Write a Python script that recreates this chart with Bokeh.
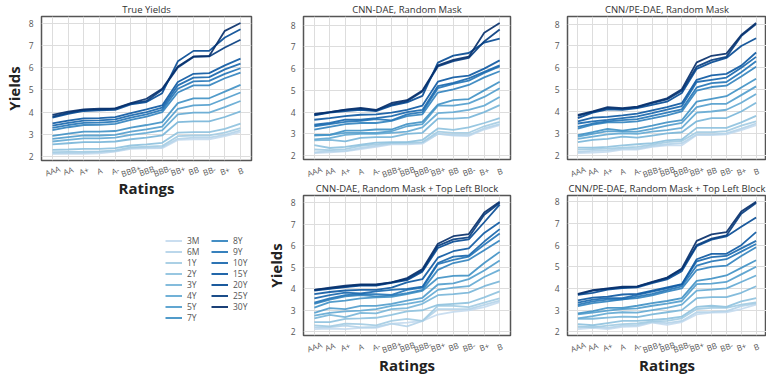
from bokeh.plotting import figure
from bokeh.layouts import row, column
from bokeh.models import (FactorRange, SingleIntervalTicker, Legend, LegendItem,
                          FixedTicker, CategoricalTicker, Range1d)
from bokeh.core.properties import value
from bokeh.embed import file_html
from bokeh.resources import INLINE

ratings = ["AAA", "AA", "A+", "A", "A-", "BBB+", "BBB", "BBB-", "BB+", "BB", "BB-", "B+", "B"]
maturities = ["3M", "6M", "1Y", "2Y", "3Y", "4Y", "5Y", "7Y", "8Y", "9Y", "10Y", "15Y", "20Y", "25Y", "30Y"]

# rows follow maturities (3M ... 30Y), columns follow ratings (AAA ... B)
true_yields = [
    [2.12, 2.12, 2.13, 2.15, 2.22, 2.35, 2.37, 2.38, 2.75, 2.78, 2.78, 2.92, 3.10],
    [2.15, 2.16, 2.17, 2.20, 2.25, 2.38, 2.40, 2.42, 2.80, 2.85, 2.85, 2.98, 3.18],
    [2.20, 2.21, 2.22, 2.24, 2.28, 2.42, 2.45, 2.48, 2.92, 2.95, 2.95, 3.08, 3.28],
    [2.30, 2.32, 2.35, 2.35, 2.38, 2.50, 2.55, 2.62, 3.08, 3.10, 3.10, 3.25, 3.48],
    [2.55, 2.60, 2.65, 2.65, 2.68, 2.78, 2.85, 2.95, 3.55, 3.58, 3.58, 3.78, 4.03],
    [2.68, 2.75, 2.82, 2.82, 2.85, 2.98, 3.07, 3.18, 3.90, 3.98, 3.98, 4.22, 4.50],
    [2.80, 2.88, 2.95, 2.95, 2.98, 3.12, 3.22, 3.35, 4.15, 4.30, 4.32, 4.60, 4.88],
    [2.93, 3.03, 3.12, 3.12, 3.15, 3.30, 3.42, 3.55, 4.40, 4.62, 4.62, 4.92, 5.22],
    [3.19, 3.32, 3.42, 3.43, 3.47, 3.65, 3.80, 4.00, 4.88, 5.20, 5.20, 5.52, 5.77],
    [3.29, 3.42, 3.52, 3.53, 3.57, 3.75, 3.90, 4.10, 5.05, 5.38, 5.40, 5.72, 5.97],
    [3.39, 3.52, 3.62, 3.63, 3.67, 3.85, 4.00, 4.20, 5.20, 5.55, 5.57, 5.92, 6.18],
    [3.49, 3.62, 3.72, 3.73, 3.77, 3.95, 4.12, 4.30, 5.35, 5.72, 5.75, 6.10, 6.40],
    [3.75, 3.92, 4.05, 4.08, 4.10, 4.35, 4.45, 4.85, 6.28, 6.75, 6.75, 7.35, 7.72],
    [3.80, 3.97, 4.10, 4.12, 4.15, 4.38, 4.50, 5.00, 6.00, 6.48, 6.50, 6.90, 7.25],
    [3.88, 4.02, 4.12, 4.15, 4.17, 4.40, 4.60, 5.05, 6.05, 6.50, 6.52, 7.65, 8.00],
]

cnn_dae_random = [
    [2.12, 2.15, 2.20, 2.30, 2.40, 2.52, 2.52, 2.55, 3.00, 2.92, 2.90, 3.20, 3.40],
    [2.15, 2.20, 2.22, 2.35, 2.45, 2.55, 2.55, 2.60, 3.00, 2.95, 2.95, 3.25, 3.45],
    [2.28, 2.25, 2.30, 2.45, 2.52, 2.58, 2.60, 2.62, 3.10, 3.05, 3.05, 3.35, 3.55],
    [2.48, 2.35, 2.40, 2.50, 2.60, 2.62, 2.62, 2.72, 3.25, 3.18, 3.30, 3.50, 3.72],
    [2.70, 2.72, 2.65, 2.82, 2.85, 2.85, 3.00, 3.05, 3.70, 3.70, 3.75, 4.00, 4.32],
    [2.75, 2.80, 2.95, 3.00, 3.00, 3.05, 3.10, 3.30, 3.95, 4.00, 4.10, 4.30, 4.70],
    [2.92, 2.95, 3.05, 3.05, 3.05, 3.12, 3.35, 3.45, 4.30, 4.30, 4.40, 4.70, 5.10],
    [2.95, 2.95, 3.15, 3.15, 3.20, 3.20, 3.45, 3.55, 4.35, 4.55, 4.60, 5.00, 5.40],
    [3.20, 3.32, 3.45, 3.50, 3.50, 3.60, 3.82, 3.90, 4.90, 5.05, 5.25, 5.60, 5.88],
    [3.35, 3.45, 3.55, 3.60, 3.68, 3.62, 3.90, 4.00, 5.10, 5.30, 5.45, 5.80, 6.10],
    [3.42, 3.50, 3.65, 3.65, 3.72, 3.82, 4.00, 4.10, 5.20, 5.35, 5.55, 5.85, 6.15],
    [3.65, 3.72, 3.82, 3.88, 3.90, 3.98, 4.10, 4.30, 5.40, 5.60, 5.68, 6.00, 6.38],
    [3.85, 3.98, 4.05, 4.10, 4.05, 4.30, 4.45, 4.75, 6.28, 6.60, 6.72, 7.20, 7.38],
    [3.88, 4.00, 4.10, 4.15, 4.08, 4.35, 4.50, 4.95, 6.10, 6.35, 6.50, 7.25, 7.80],
    [3.92, 4.00, 4.12, 4.20, 4.10, 4.42, 4.55, 5.00, 6.15, 6.40, 6.55, 7.65, 8.10],
]

cnn_pe_dae_random = [
    [2.10, 2.12, 2.15, 2.25, 2.25, 2.38, 2.45, 2.45, 2.92, 2.92, 2.95, 3.15, 3.38],
    [2.15, 2.20, 2.22, 2.30, 2.30, 2.42, 2.50, 2.55, 2.95, 2.95, 3.00, 3.22, 3.45],
    [2.25, 2.28, 2.30, 2.35, 2.38, 2.48, 2.60, 2.65, 3.05, 3.05, 3.10, 3.35, 3.55],
    [2.35, 2.35, 2.38, 2.45, 2.50, 2.55, 2.68, 2.72, 3.25, 3.25, 3.25, 3.50, 3.80],
    [2.60, 2.70, 2.75, 2.85, 2.80, 2.90, 3.00, 3.05, 3.55, 3.70, 3.70, 4.00, 4.40],
    [2.75, 2.85, 2.95, 3.00, 2.98, 3.08, 3.15, 3.25, 3.95, 4.00, 4.08, 4.40, 4.80],
    [2.85, 2.98, 3.10, 3.08, 3.08, 3.20, 3.35, 3.48, 4.20, 4.35, 4.35, 4.75, 5.15],
    [2.92, 3.05, 3.20, 3.12, 3.22, 3.35, 3.50, 3.60, 4.45, 4.58, 4.70, 5.10, 5.50],
    [3.22, 3.40, 3.50, 3.50, 3.55, 3.68, 3.82, 4.00, 4.95, 5.12, 5.18, 5.60, 6.05],
    [3.30, 3.45, 3.55, 3.60, 3.65, 3.80, 3.95, 4.10, 5.10, 5.30, 5.35, 5.80, 6.30],
    [3.45, 3.55, 3.62, 3.70, 3.78, 3.92, 4.08, 4.25, 5.35, 5.45, 5.55, 6.00, 6.50],
    [3.55, 3.72, 3.75, 3.82, 3.90, 4.05, 4.20, 4.38, 5.45, 5.65, 5.72, 6.10, 6.70],
    [3.70, 3.95, 4.10, 4.08, 4.15, 4.30, 4.45, 4.85, 5.95, 6.25, 6.45, 7.00, 7.35],
    [3.80, 3.98, 4.15, 4.12, 4.20, 4.38, 4.55, 4.95, 6.05, 6.35, 6.50, 7.45, 8.00],
    [3.85, 4.00, 4.20, 4.15, 4.22, 4.42, 4.60, 5.02, 6.25, 6.55, 6.65, 7.50, 8.05],
]

cnn_dae_block = [
    [2.12, 2.15, 2.12, 2.18, 2.18, 2.38, 2.42, 2.50, 2.80, 2.92, 3.00, 3.15, 3.38],
    [2.20, 2.22, 2.28, 2.20, 2.22, 2.38, 2.25, 2.50, 3.05, 3.05, 3.05, 3.25, 3.45],
    [2.30, 2.25, 2.38, 2.35, 2.30, 2.50, 2.60, 2.50, 3.20, 3.20, 3.15, 3.35, 3.55],
    [2.45, 2.45, 2.60, 2.62, 2.65, 2.78, 2.95, 3.00, 3.25, 3.30, 3.35, 3.60, 3.88],
    [2.62, 2.78, 2.68, 2.88, 2.85, 3.05, 3.10, 3.30, 3.70, 3.75, 3.82, 4.12, 4.35],
    [2.75, 2.88, 2.95, 2.98, 3.05, 3.20, 3.30, 3.42, 3.95, 4.05, 4.12, 4.55, 4.88],
    [2.88, 3.10, 3.05, 3.20, 3.20, 3.30, 3.45, 3.58, 4.20, 4.25, 4.45, 4.85, 5.32],
    [3.12, 3.38, 3.45, 3.55, 3.60, 3.62, 3.75, 3.90, 4.50, 4.60, 4.62, 5.20, 5.72],
    [3.30, 3.50, 3.65, 3.70, 3.65, 3.68, 3.80, 3.95, 4.88, 5.20, 5.35, 5.80, 6.25],
    [3.35, 3.55, 3.70, 3.75, 3.75, 3.72, 3.95, 4.05, 5.15, 5.35, 5.50, 6.05, 6.58],
    [3.55, 3.70, 3.82, 3.78, 3.88, 3.95, 4.00, 4.10, 5.20, 5.50, 5.55, 6.20, 6.78],
    [3.75, 3.85, 3.92, 3.95, 3.95, 4.05, 4.30, 4.45, 5.45, 5.75, 5.88, 6.60, 7.10],
    [3.92, 4.00, 4.08, 4.15, 4.15, 4.28, 4.40, 4.80, 5.90, 6.20, 6.30, 7.10, 7.92],
    [3.95, 4.02, 4.10, 4.18, 4.18, 4.30, 4.45, 4.85, 6.00, 6.30, 6.40, 7.45, 8.00],
    [3.95, 4.05, 4.15, 4.20, 4.20, 4.30, 4.50, 4.92, 6.10, 6.45, 6.55, 7.55, 8.05],
]

cnn_pe_dae_block = [
    [2.12, 2.18, 2.12, 2.22, 2.25, 2.42, 2.32, 2.45, 2.80, 2.88, 2.90, 3.05, 3.25],
    [2.20, 2.25, 2.18, 2.28, 2.30, 2.45, 2.40, 2.50, 2.90, 2.92, 2.95, 3.18, 3.30],
    [2.25, 2.20, 2.28, 2.35, 2.38, 2.48, 2.50, 2.62, 3.05, 3.10, 3.10, 3.25, 3.35],
    [2.35, 2.30, 2.40, 2.50, 2.50, 2.55, 2.60, 2.70, 3.15, 3.20, 3.15, 3.40, 3.55],
    [2.60, 2.60, 2.65, 2.70, 2.68, 2.80, 2.90, 3.00, 3.55, 3.60, 3.60, 3.80, 4.10],
    [2.62, 2.72, 2.85, 2.90, 2.88, 3.00, 3.10, 3.25, 3.90, 3.95, 4.00, 4.30, 4.60],
    [2.80, 2.88, 2.98, 3.05, 3.08, 3.20, 3.30, 3.42, 4.20, 4.22, 4.30, 4.65, 5.00],
    [2.85, 2.95, 3.10, 3.10, 3.20, 3.32, 3.42, 3.55, 4.35, 4.45, 4.60, 4.95, 5.30],
    [3.18, 3.32, 3.40, 3.50, 3.55, 3.68, 3.85, 4.00, 4.85, 5.00, 5.05, 5.50, 5.90],
    [3.25, 3.40, 3.48, 3.50, 3.62, 3.75, 3.92, 4.10, 5.05, 5.25, 5.35, 5.70, 6.05],
    [3.35, 3.48, 3.55, 3.55, 3.70, 3.85, 4.00, 4.18, 5.25, 5.45, 5.50, 5.85, 6.20],
    [3.45, 3.58, 3.62, 3.72, 3.75, 3.90, 4.05, 4.20, 5.35, 5.60, 5.60, 6.00, 6.60],
    [3.70, 3.80, 3.95, 4.02, 4.05, 4.25, 4.42, 4.80, 5.95, 6.25, 6.40, 6.85, 7.28],
    [3.72, 3.90, 3.98, 4.05, 4.08, 4.28, 4.48, 4.88, 6.00, 6.30, 6.45, 7.45, 7.95],
    [3.75, 3.92, 4.00, 4.08, 4.10, 4.30, 4.50, 4.92, 6.20, 6.50, 6.60, 7.55, 8.00],
]

titles = ["True Yields", "CNN-DAE, Random Mask", "CNN/PE-DAE, Random Mask",
          "CNN-DAE, Random Mask + Top Left Block", "CNN/PE-DAE, Random Mask + Top Left Block"]
x_title = "Ratings"
y_title = "Yields"

# Blues colormap anchors (style)
_anchors = ["#f7fbff", "#deebf7", "#c6dbef", "#9ecae1", "#6baed6", "#4292c6", "#2171b5", "#08519c", "#08306b"]


def _blues(t):
    pos = t * (len(_anchors) - 1)
    i = min(int(pos), len(_anchors) - 2)
    f = pos - i
    a = [int(_anchors[i][k:k + 2], 16) for k in (1, 3, 5)]
    b = [int(_anchors[i + 1][k:k + 2], 16) for k in (1, 3, 5)]
    c = [round(a[j] + (b[j] - a[j]) * f) for j in range(3)]
    return "#%02x%02x%02x" % tuple(c)


n = len(maturities)
colors = [_blues(0.25 + 0.75 * i / (n - 1)) for i in range(n)]

FONT = "Open Sans"
TICK_COLOR = "#555555"
LABEL_COLOR = "#222222"


def style_axis(ax):
    ax.axis_line_color = None
    ax.major_tick_line_color = None
    ax.minor_tick_line_color = None
    ax.major_tick_out = 0
    ax.major_tick_in = 0
    ax.major_label_text_font = FONT
    ax.major_label_text_font_size = "8.5px"
    ax.major_label_text_color = TICK_COLOR
    ax.axis_label_text_font = FONT
    ax.axis_label_text_font_size = "15px"
    ax.axis_label_text_font_style = "bold"
    ax.axis_label_text_color = LABEL_COLOR


def make_panel(title, data, width, height, bl, br, bt, ylabel=None):
    p = figure(width=width, height=height,
               x_range=FactorRange(factors=ratings, range_padding=0.2, range_padding_units="absolute"),
               output_backend="svg", toolbar_location=None, x_axis_location=None,
               min_border_left=bl, min_border_right=br, min_border_top=bt, min_border_bottom=3)
    for vals, c in zip(data, colors):
        p.line(ratings, vals, line_color=c, line_width=1.8, line_alpha=0.92)
    p.title.text = title
    p.title.align = "center"
    p.title.text_font = FONT
    p.title.text_font_size = "9.5px"
    p.title.text_font_style = "normal"
    p.title.text_color = "#333333"
    p.title.standoff = 1
    p.title.offset = 0
    p.background_fill_color = "white"
    p.border_fill_color = "white"
    p.outline_line_color = "#555555"
    p.outline_line_width = 1.5
    p.outline_line_alpha = 1.0
    p.xgrid.ticker = CategoricalTicker()
    p.grid.grid_line_color = "#dddddd"
    p.grid.grid_line_width = 1
    p.yaxis.ticker = SingleIntervalTicker(interval=1)
    style_axis(p.yaxis[0])
    p.yaxis.major_label_standoff = 4
    p.yaxis.axis_label_standoff = 2
    if ylabel:
        p.yaxis.axis_label = ylabel
    return p


def make_strip(p, width, height, bl, br, bb, xlabel=None):
    # strip under a panel holding its rotated, centred category labels
    s = figure(width=width, height=height, x_range=p.x_range, y_range=Range1d(0, 1),
               output_backend="svg", toolbar_location=None,
               x_axis_location="below" if xlabel else None, y_axis_location=None,
               min_border_left=bl, min_border_right=br, min_border_top=0, min_border_bottom=bb)
    s.grid.visible = False
    s.outline_line_color = None
    s.background_fill_color = "white"
    s.border_fill_color = "white"
    s.text(x=ratings, y=0.5, text=ratings, angle=0.35, text_align="center", text_baseline="middle",
           text_font=value(FONT), text_font_size="8px", text_color=TICK_COLOR)
    if xlabel:
        s.xaxis.ticker = FixedTicker(ticks=[])
        style_axis(s.xaxis[0])
        s.xaxis.major_label_standoff = 0
        s.xaxis.axis_label_standoff = 0
        s.xaxis.axis_label = xlabel
    return s


# column 1
p1 = make_panel(titles[0], true_yields, 262, 163, 32, 11, 15, y_title)
s1 = make_strip(p1, 262, 37, 32, 11, 20, x_title)
# column 2
p2 = make_panel(titles[1], cnn_dae_random, 269, 162, 33, 21, 15)
s2 = make_strip(p2, 269, 17, 33, 21, 0)
p5 = make_panel(titles[3], cnn_dae_block, 269, 159, 33, 21, 13, y_title)
s5 = make_strip(p5, 269, 39, 33, 21, 22, x_title)
# column 3
p3 = make_panel(titles[2], cnn_pe_dae_random, 235, 162, 36, 0, 15)
s3 = make_strip(p3, 235, 17, 36, 0, 0)
p6 = make_panel(titles[4], cnn_pe_dae_block, 235, 159, 36, 0, 13)
s6 = make_strip(p6, 235, 39, 36, 0, 22, x_title)

# legend panel: lines carry the true-yield rows but sit outside the visible y range
lf = figure(width=262, height=177, output_backend="svg", toolbar_location=None,
            x_range=FactorRange(factors=ratings), y_range=Range1d(20, 21),
            x_axis_location=None, y_axis_location=None,
            min_border_left=0, min_border_right=0, min_border_top=0, min_border_bottom=0)
lf.grid.visible = False
lf.outline_line_color = None
lf.background_fill_color = "white"
lf.border_fill_color = "white"
rends = [lf.line(ratings, vals, line_color=c, line_width=2, line_alpha=0.92)
         for vals, c in zip(true_yields, colors)]


def make_legend(labels, rs, loc):
    return Legend(items=[LegendItem(label=m, renderers=[r]) for m, r in zip(labels, rs)],
                  location=loc, orientation="vertical", padding=0, margin=0, spacing=0,
                  glyph_width=17, glyph_height=11, label_height=11, label_standoff=5,
                  label_text_font=FONT, label_text_font_size="8.5px", label_text_color=TICK_COLOR,
                  border_line_color=None, background_fill_alpha=0)


lf.add_layout(make_legend(maturities[:8], rends[:8], (124, 54)))
lf.add_layout(make_legend(maturities[8:], rends[8:], (170, 65)))

layout = row(column(p1, s1, lf), column(p2, s2, p5, s5), column(p3, s3, p6, s6))

open("out.html", "w").write(file_html(layout, INLINE))
